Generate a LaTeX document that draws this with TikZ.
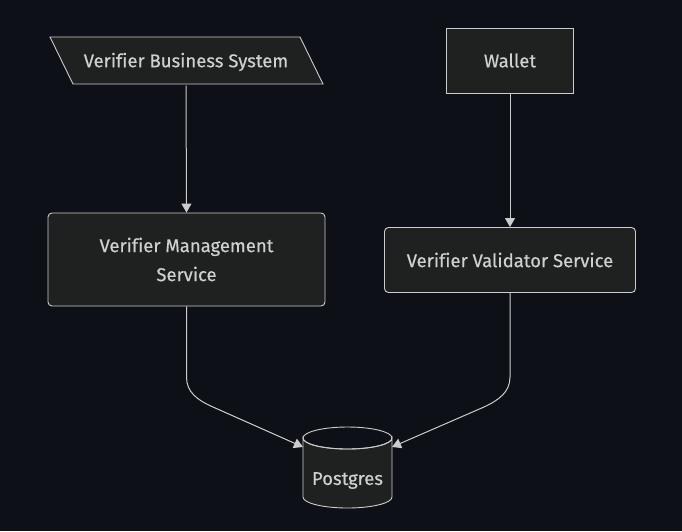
\documentclass[tikz,border=0pt]{standalone}
\usepackage{fontspec}
\setmainfont[Ligatures={NoCommon},FakeBold=0.4]{Fira Sans}
\usetikzlibrary{arrows.meta}
\definecolor{bg}{HTML}{0D1117}
\definecolor{nodefill}{HTML}{1F2020}
\definecolor{stroke}{HTML}{CCCCCC}
\definecolor{txt}{HTML}{D0D0D0}
\begin{document}
\begin{tikzpicture}[x=1pt,y=-1pt,
  box/.style={draw=stroke, fill=nodefill, line width=0.9pt, text=txt, font=\fontsize{18.5}{29}\selectfont, align=center, inner sep=0pt},
  plain/.style={text=txt, font=\fontsize{18.5}{29}\selectfont, align=center, inner sep=0pt},
  arr/.style={draw=stroke, line width=1pt, -{Triangle[length=9pt,width=10pt]}}]
\fill[bg] (0,0) rectangle (682,531);
\useasboundingbox (0,0) rectangle (682,531);
% parallelogram
\draw[draw=stroke, fill=nodefill, line width=0.9pt] (50,37) -- (300,37) -- (323,84) -- (73,84) -- cycle;
\node[plain, minimum width=250pt, minimum height=47pt] (vbs) at (186,62) {Verifier Business System};
\node[box, minimum width=127pt, minimum height=65pt] (wallet) at (510,60.5) {Wallet};
\node[box, rounded corners=4pt, minimum width=277pt, minimum height=93pt] (vms) at (186.5,259.5) {Verifier Management\\Service};
\node[box, rounded corners=4pt, minimum width=251pt, minimum height=65pt] (vvs) at (510,260) {Verifier Validator Service};
% cylinder
\draw[draw=stroke, fill=nodefill, line width=0.9pt] (303,438) -- (303,497) arc[start angle=180, end angle=360, x radius=44.5pt, y radius=11pt] -- (392,438) arc[start angle=0, end angle=-180, x radius=44.5pt, y radius=11pt] -- cycle;
\draw[draw=stroke, line width=0.9pt] (303,438) arc[start angle=180, end angle=360, x radius=44.5pt, y radius=-11pt];
\draw[draw=stroke, line width=0.9pt] (303,438) arc[start angle=180, end angle=0, x radius=44.5pt, y radius=-11pt];
\node[plain] (pg) at (347.5,480.5) {Postgres};
\coordinate (pgL) at (303,447);
\coordinate (pgR) at (392,447);
% edges
\draw[arr] (vbs.south) -- (vms.north);
\draw[arr] (wallet.south) -- (vvs.north);
\draw[arr] (vms.south) -- (186.5,377) .. controls (186.5,392) and (197,400) .. (213,407) -- (pgL);
\draw[arr] (vvs.south) -- (510,377) .. controls (510,392) and (499,400) .. (484,407) -- (pgR);
\end{tikzpicture}
\end{document}
